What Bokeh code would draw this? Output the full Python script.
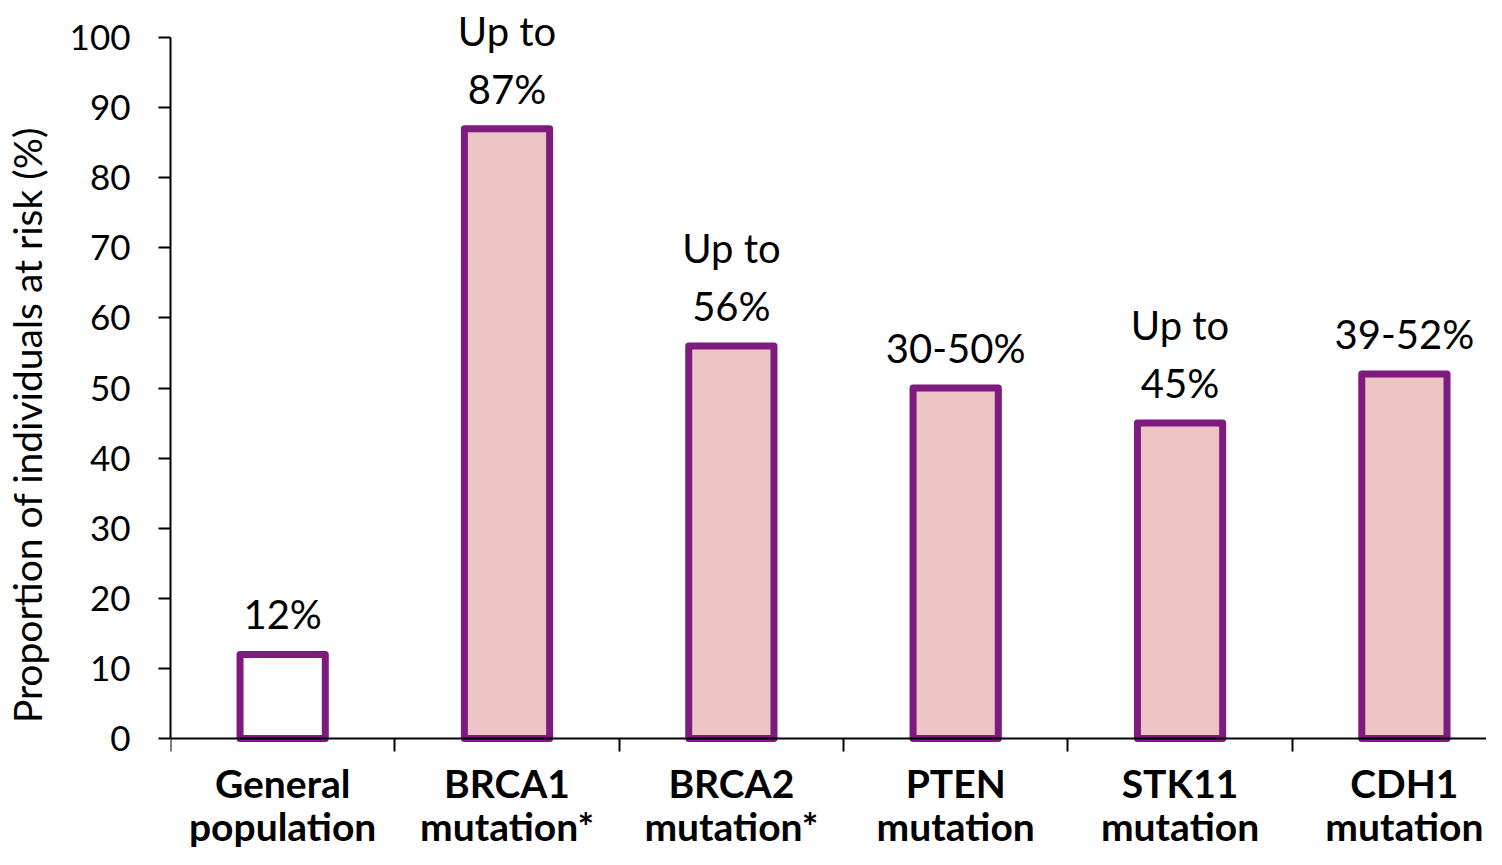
from bokeh.plotting import figure
from bokeh.models import ColumnDataSource, Range1d, FixedTicker
from bokeh.core.properties import value
from bokeh.embed import file_html
from bokeh.resources import INLINE

categories = ["General\npopulation", "BRCA1\nmutation*", "BRCA2\nmutation*",
              "PTEN\nmutation", "STK11\nmutation", "CDH1\nmutation"]
values = [12, 87, 56, 50, 45, 52]
bar_labels = ["12%", "Up to\n87%", "Up to\n56%", "30-50%", "Up to\n45%", "39-52%"]
fills = ["#FFFFFF", "#ECC4C4", "#ECC4C4", "#ECC4C4", "#ECC4C4", "#ECC4C4"]
y_ticks = [0, 10, 20, 30, 40, 50, 60, 70, 80, 90, 100]

FONT = "Lato"
PURPLE = "#7D1B7E"

idx = list(range(len(categories)))
src = ColumnDataSource(dict(x=idx, top=values, label=bar_labels, fill=fills))

p = figure(width=1486, height=849, x_range=Range1d(-0.5, 5.366), y_range=Range1d(-15.83, 105.28),
           output_backend="svg", toolbar_location=None,
           min_border_left=168, min_border_right=0, min_border_top=0, min_border_bottom=0)

p.vbar(x="x", top="top", bottom=0, width=0.38, fill_color="fill", line_color=PURPLE,
       line_width=7, line_join="round", source=src)
p.text(x="x", y="top", text="label", text_align="center", text_baseline="bottom",
       y_offset=-16, text_font=value(FONT), text_font_size="40px", text_line_height=1.2,
       text_color="black", source=src)

p.grid.visible = False
p.outline_line_color = None
p.background_fill_color = "white"
p.border_fill_color = "white"

ya = p.yaxis[0]
ya.ticker = FixedTicker(ticks=y_ticks)
ya.bounds = (0, 100)
ya.axis_line_width = 2
ya.axis_line_color = "black"
ya.major_tick_out = 12
ya.major_tick_in = 0
ya.major_tick_line_width = 2
ya.minor_tick_line_color = None
ya.major_label_text_font = FONT
ya.major_label_text_font_size = "35px"
ya.major_label_text_color = "black"
ya.major_label_standoff = 28
ya.axis_label = "Proportion of individuals at risk (%)"
ya.axis_label_text_font = FONT
ya.axis_label_text_font_size = "39px"
ya.axis_label_text_font_style = "normal"
ya.axis_label_text_color = "black"
ya.axis_label_standoff = 17

xa = p.xaxis[0]
xa.fixed_location = 0
xa.ticker = FixedTicker(ticks=idx, minor_ticks=[i - 0.5 for i in idx])
xa.axis_line_width = 2
xa.axis_line_color = "black"
xa.major_tick_line_color = None
xa.major_tick_out = 0
xa.major_tick_in = 0
xa.minor_tick_out = 13
xa.minor_tick_in = 0
xa.minor_tick_line_width = 2
xa.minor_tick_line_color = "black"
xa.major_label_overrides = {i: c for i, c in enumerate(categories)}
xa.major_label_text_font = FONT
xa.major_label_text_font_size = "39px"
xa.major_label_text_font_style = "bold"
xa.major_label_text_color = "black"
xa.major_label_text_line_height = 0.95
xa.major_label_standoff = 8

open("out.html", "w").write(file_html(p, INLINE))
